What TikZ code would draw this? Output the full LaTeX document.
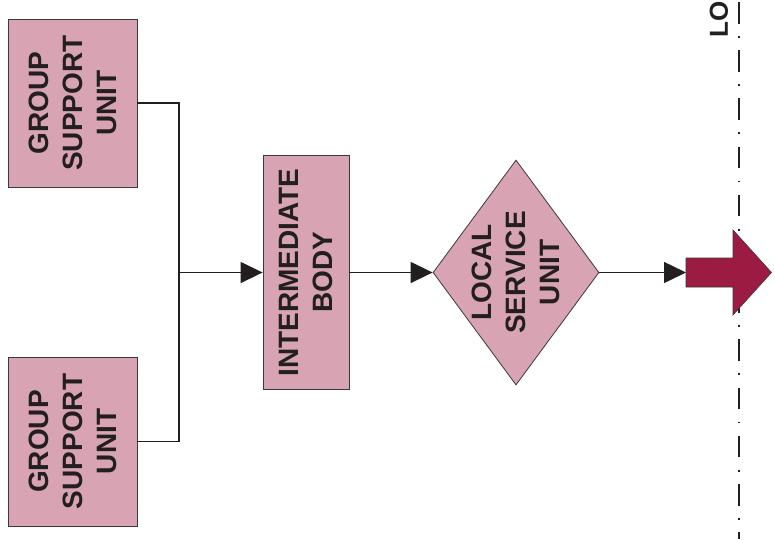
\documentclass[tikz,border=0pt]{standalone}
\usepackage{fontspec}
\setmainfont{Liberation Sans}
\usetikzlibrary{arrows.meta,shapes.geometric}
\definecolor{boxpink}{RGB}{216,164,180}
\definecolor{boxline}{RGB}{60,56,58}
\definecolor{inkdark}{RGB}{35,31,32}
\definecolor{arrowred}{RGB}{155,27,67}
\begin{document}
\begin{tikzpicture}[x=1pt,y=-1pt,
  vtext/.style={font=\fontsize{28}{34}\selectfont\bfseries, text=inkdark, align=center, rotate=90, inner sep=0pt},
  unitbox/.style={draw=boxline, line width=0.8pt, fill=boxpink, inner sep=0pt},
  conn/.style={draw=inkdark, line width=1.4pt},
  arr/.style={conn, -{Triangle[length=22pt,width=21pt]}},
  dashdot/.style={draw=inkdark, line width=1.8pt, dash pattern=on 21.5pt off 12.5pt on 1.8pt off 12.4pt, dash phase=46.2pt}]
\useasboundingbox (0,0) rectangle (775,539);
% dash-dot boundary line
\coordinate (dtop) at (739,0);
\coordinate (dbot) at (739,539);
\draw[dashdot] (dtop) -- (dbot);
\node[vtext, font=\fontsize{26}{34}\selectfont\bfseries] (lo) at (719,19.5) {LO};
% boxes
\node[unitbox, minimum width=129pt, minimum height=168pt,
  label={[vtext]center:{GROUP\\SUPPORT\\UNIT}}] (g1) at (72.5,103) {};
\node[unitbox, minimum width=129pt, minimum height=169pt,
  label={[vtext]center:{GROUP\\SUPPORT\\UNIT}}] (g2) at (72.5,441.5) {};
\node[unitbox, minimum width=86pt, minimum height=234pt,
  label={[vtext]center:{INTERMEDIATE\\BODY}}] (ib) at (306,272.5) {};
\node[unitbox, diamond, minimum width=166pt, minimum height=225pt,
  label={[vtext]center:{LOCAL\\SERVICE\\UNIT}}] (ls) at (516,272.5) {};
% block arrow
\coordinate (bt) at (686,272.5);
\filldraw[fill=arrowred, draw=boxline, line width=0.6pt]
  (686,258) -- (733,258) -- (733,230) -- (771.5,272.5) -- (733,315) -- (733,287) -- (686,287) -- cycle;
% connectors
\coordinate (jn) at (179,272.5);
\draw[conn] (g1.east) -| (jn) |- (g2.east);
\draw[arr] (jn) -- (ib.west);
\draw[arr] (ib.east) -- (ls.west);
\draw[arr] (ls.east) -- (bt);
\end{tikzpicture}
\end{document}
